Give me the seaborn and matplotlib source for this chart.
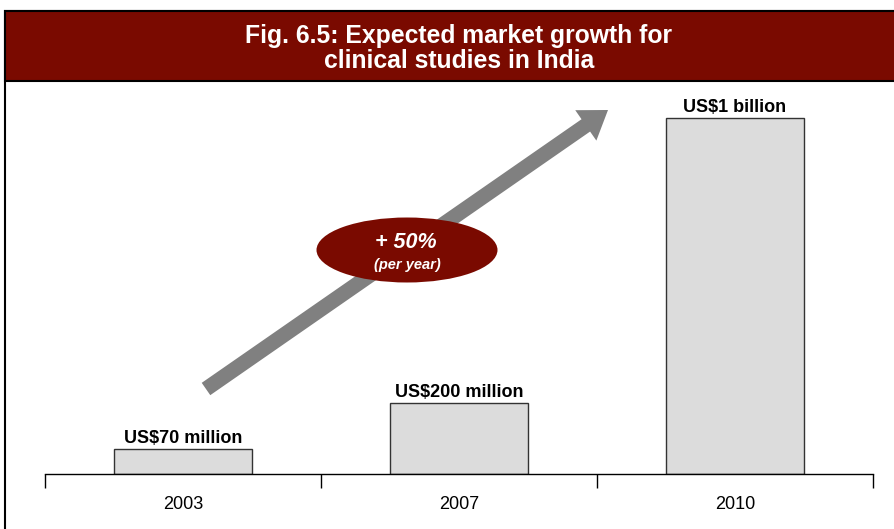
import matplotlib
matplotlib.use("Agg")
import matplotlib.pyplot as plt
import seaborn as sns
import pandas as pd
from matplotlib.patches import Rectangle, Ellipse, FancyArrow
from matplotlib.transforms import IdentityTransform

years = ["2003", "2007", "2010"]
values = [70, 200, 1000]
labels = ["US$70 million", "US$200 million", "US$1 billion"]
title_lines = ["Fig. 6.5: Expected market growth for", "clinical studies in India"]
growth_main = "+ 50%"
growth_sub = "(per year)"

sns.set_style("white")
plt.rcParams["font.family"] = ["Liberation Sans", "DejaVu Sans"]
plt.rcParams["text.color"] = "black"
plt.rcParams["xtick.color"] = "black"

W, H = 895, 529
fig = plt.figure(figsize=(W / 100, H / 100), dpi=100)
ax = fig.add_axes([45 / W, (H - 474) / H, (873 - 45) / W, (474 - 82) / H])

df = pd.DataFrame({"year": years, "value": values})
sns.barplot(data=df, x="year", y="value", color="#DCDCDC", edgecolor="#333333",
            linewidth=1.0, width=0.5, saturation=1, ax=ax)
for p in ax.patches:
    p.set_facecolor("#DCDCDC")

ax.set_xlim(-0.5, 2.5)
ax.set_ylim(0, 1100)
ax.set_xlabel("")
ax.set_ylabel("")
ax.set_yticks([])
for s in ["left", "top", "right"]:
    ax.spines[s].set_visible(False)
ax.spines["bottom"].set_color("black")
ax.spines["bottom"].set_linewidth(1.0)
ax.set_xticks([-0.5, 0.5, 1.5, 2.5])
ax.set_xticklabels([])
ax.tick_params(axis="x", which="major", bottom=True, length=10, width=1,
               color="black", direction="out")
ax.set_xticks([0, 1, 2], minor=True)
ax.set_xticklabels(years, minor=True, fontsize=13, color="black")
ax.tick_params(axis="x", which="minor", bottom=True, length=0, pad=16)
ax.set_facecolor("none")

for i, (v, lab) in enumerate(zip(values, labels)):
    ax.annotate(lab, xy=(i, v), xytext=(0, 1.5), textcoords="offset points",
                ha="center", va="bottom", fontsize=13, fontweight="bold", color="black")

ident = IdentityTransform()
# border and banner
fig.patches.append(Rectangle((5, -20), 920, H - 11 + 20, transform=ident,
                             facecolor="none", edgecolor="black", linewidth=1.5, zorder=0))
fig.patches.append(Rectangle((5, H - 81), 920, 70, transform=ident,
                             facecolor="#7A0A00", edgecolor="black", linewidth=1.5, zorder=1))
fig.text(459 / W, (H - 35.5) / H, title_lines[0], ha="center", va="center", color="white",
         fontsize=17.8, fontweight="bold")
fig.text(459 / W, (H - 61.5) / H, title_lines[1], ha="center", va="center", color="white",
         fontsize=17.8, fontweight="bold")

# growth arrow
tail = (206, H - 389)
tip = (608, H - 110)
fig.patches.append(FancyArrow(tail[0], tail[1], tip[0] - tail[0], tip[1] - tail[1],
                              width=15, head_width=37, head_length=27,
                              length_includes_head=True, transform=ident,
                              facecolor="#808080", edgecolor="none", zorder=3))
fig.patches.append(Ellipse((407, H - 250), 181, 65, transform=ident,
                           facecolor="#7A0A00", edgecolor="none", zorder=4))
fig.text(406 / W, (H - 243) / H, growth_main, ha="center", va="center", color="white",
         fontsize=15.5, fontweight="bold", fontstyle="italic", zorder=5)
fig.text(407 / W, (H - 265) / H, growth_sub, ha="center", va="center", color="white",
         fontsize=10.5, fontweight="bold", fontstyle="italic", zorder=5)

fig.savefig("out.png", dpi=100)
